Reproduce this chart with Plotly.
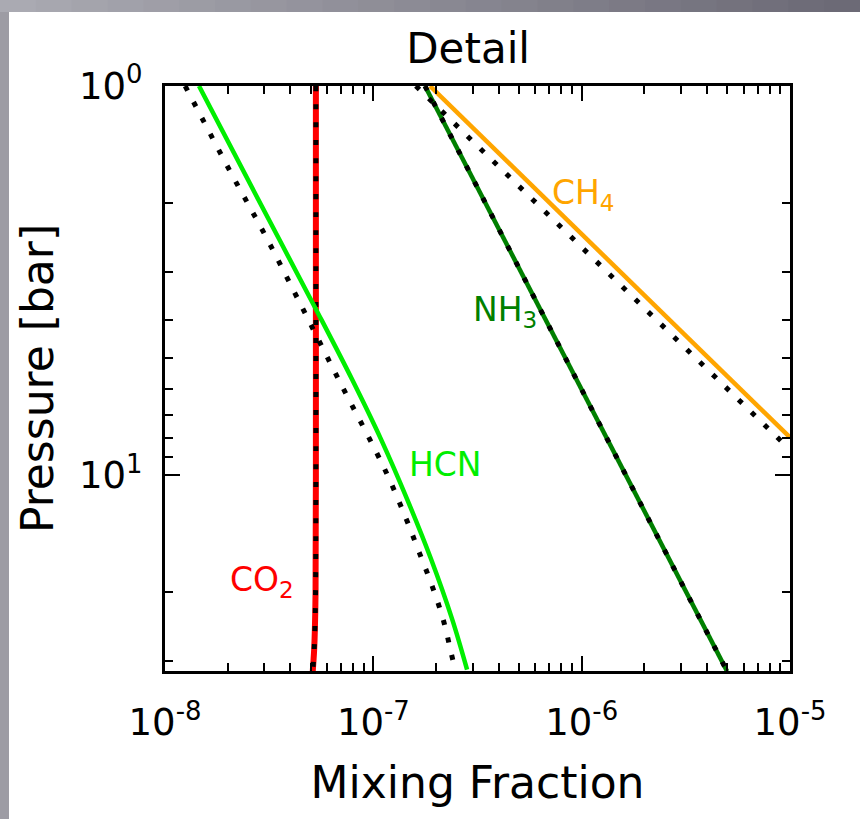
import plotly.graph_objects as go
import math

# ---------------- data ----------------
co2_p = [1.0, 3.0, 10.0, 20.0, 25.0, 28.0, 30.0, 31.9]
co2_x = [5.3e-8, 5.3e-8, 5.3e-8, 5.28e-8, 5.24e-8, 5.2e-8, 5.16e-8, 5.12e-8]
co2_ref_p = [1.0, 3.0, 10.0, 20.0, 25.0, 28.0, 30.0, 31.9]
co2_ref_x = [5.3e-8, 5.3e-8, 5.3e-8, 5.28e-8, 5.24e-8, 5.2e-8, 5.16e-8, 5.12e-8]

hcn_p = [1.0, 1.884, 3.75, 5.67, 8.09, 11.52, 16.42, 23.4, 31.6]
hcn_x = [1.456e-8, 2.70e-8, 5.31e-8, 7.90e-8, 1.089e-7, 1.452e-7, 1.892e-7, 2.387e-7, 2.818e-7]
hcn_ref_p = [1.0, 1.654, 2.39, 3.49, 5.77, 9.71, 12.98, 15.78, 19.18, 23.4, 28.5, 31.7]
hcn_ref_x = [1.25e-8, 2.05e-8, 2.99e-8, 4.30e-8, 6.92e-8, 1.14e-7, 1.44e-7, 1.66e-7, 1.91e-7, 2.16e-7, 2.36e-7, 2.47e-7]

nh3_p = [1.0, 3.0, 10.0, 31.9]
nh3_x = [1.77e-7, 5.12e-7, 1.64e-6, 4.99e-6]
nh3_ref_p = [1.0, 3.0, 10.0, 31.9]
nh3_ref_x = [1.77e-7, 5.12e-7, 1.64e-6, 4.99e-6]

ch4_p = [1.0, 3.0, 8.0]
ch4_x = [1.87e-7, 1.53e-6, 1.0e-5]
ch4_ref_p = [1.0, 3.0, 8.6]
ch4_ref_x = [1.60e-7, 1.31e-6, 1.0e-5]

x_tick_vals = [1e-8, 1e-7, 1e-6, 1e-5]
x_tick_text = ["10<sup>-8</sup>", "10<sup>-7</sup>", "10<sup>-6</sup>", "10<sup>-5</sup>"]
y_tick_vals = [1, 10]
y_tick_text = ["10<sup>0</sup>", "10<sup>1</sup>"]

labels = ["CH<sub>4</sub>", "NH<sub>3</sub>", "HCN", "CO<sub>2</sub>"]
label_x = [1.02e-6, 4.3e-7, 2.21e-7, 2.92e-8]
label_p = [1.90, 3.79, 9.37, 18.8]

# ---------------- styling ----------------
RED = "#ff0000"
LIME = "#00ee00"
GREEN = "#008000"
ORANGE = "#ffa500"
FONT = "DejaVu Sans"
DOT = "5px,13px"

W, H = 860, 819
L, R, T, B = 165, 790, 86, 671


def px2paper_x(px):
    return (px - L) / (R - L)


def px2paper_y(py):
    return (B - py) / (B - T)


fig = go.Figure()


def add_pair(sx, sp, rx, rp, color, width, shape="linear"):
    fig.add_trace(go.Scatter(x=sx, y=sp, mode="lines",
                             line=dict(color=color, width=width, shape=shape, smoothing=1.0),
                             showlegend=False, hoverinfo="skip"))
    fig.add_trace(go.Scatter(x=rx, y=rp, mode="lines",
                             line=dict(color="black", width=5, dash=DOT, shape=shape, smoothing=1.0),
                             showlegend=False, hoverinfo="skip"))


add_pair(co2_x, co2_p, co2_ref_x, co2_ref_p, RED, 6, "spline")
add_pair(hcn_x, hcn_p, hcn_ref_x, hcn_ref_p, LIME, 4.5, "spline")
add_pair(nh3_x, nh3_p, nh3_ref_x, nh3_ref_p, GREEN, 4.5)
add_pair(ch4_x, ch4_p, ch4_ref_x, ch4_ref_p, ORANGE, 4.5)

label_colors = [ORANGE, GREEN, LIME, RED]
for t, lx, lp, c in zip(labels, label_x, label_p, label_colors):
    fig.add_annotation(x=math.log10(lx), y=math.log10(lp), text=t, showarrow=False,
                       font=dict(family=FONT, size=33, color=c),
                       xanchor="center", yanchor="middle")

# grey frame around the white page
shapes = []
n = 24
for i in range(n):
    f = i / (n - 1)
    r = int(170 - 62 * f)
    g = int(170 - 64 * f)
    b = int(178 - 60 * f)
    shapes.append(dict(type="rect", xref="paper", yref="paper", layer="below",
                       x0=px2paper_x(W * i / n), x1=px2paper_x(W * (i + 1) / n + 1),
                       y0=px2paper_y(12), y1=px2paper_y(0),
                       fillcolor=f"rgb({r},{g},{b})", line=dict(width=0)))
shapes.append(dict(type="rect", xref="paper", yref="paper", layer="below",
                   x0=px2paper_x(0), x1=px2paper_x(9),
                   y0=px2paper_y(H), y1=px2paper_y(12),
                   fillcolor="#9d9ca4", line=dict(width=0)))
shapes.append(dict(type="rect", xref="paper", yref="paper", layer="below",
                   x0=px2paper_x(9), x1=px2paper_x(W),
                   y0=px2paper_y(H), y1=px2paper_y(12),
                   fillcolor="white", line=dict(width=0)))

minor_x = [m * 10.0 ** e for e in range(-8, -5) for m in range(2, 10)]
minor_y = [2, 3, 4, 5, 6, 7, 8, 9, 20, 30]

axis_common = dict(
    showline=True, linecolor="black", linewidth=3, mirror="allticks",
    ticks="inside", ticklen=15, tickwidth=2, tickcolor="black",
    showgrid=False, zeroline=False,
    tickfont=dict(family=FONT, size=37, color="black"),
)

fig.update_layout(
    width=W, height=H,
    margin=dict(l=L, r=W - R, t=T, b=H - B),
    paper_bgcolor="#9d9ca4",
    plot_bgcolor="white",
    shapes=shapes,
    title=dict(text="Detail", x=0.485, xref="paper", xanchor="center",
               y=1 - 48 / H, yref="container", yanchor="middle",
               font=dict(family=FONT, size=42, color="black")),
    xaxis=dict(type="log", range=[-8, -5], tickmode="array",
               tickvals=x_tick_vals, ticktext=x_tick_text,
               ticklabelstandoff=17,
               minor=dict(tickmode="array", tickvals=minor_x, ticks="inside",
                          ticklen=8, tickwidth=2, tickcolor="black"),
               title=dict(text="Mixing Fraction", standoff=24,
                          font=dict(family=FONT, size=44, color="black")),
               **axis_common),
    yaxis=dict(type="log", range=[1.503, 0], tickmode="array",
               tickvals=y_tick_vals, ticktext=y_tick_text,
               ticklabelstandoff=12,
               minor=dict(tickmode="array", tickvals=minor_y, ticks="inside",
                          ticklen=8, tickwidth=2, tickcolor="black"),
               title=dict(text="Pressure [bar]", standoff=12,
                          font=dict(family=FONT, size=44, color="black")),
               **axis_common),
)

fig.write_html("out.html")
